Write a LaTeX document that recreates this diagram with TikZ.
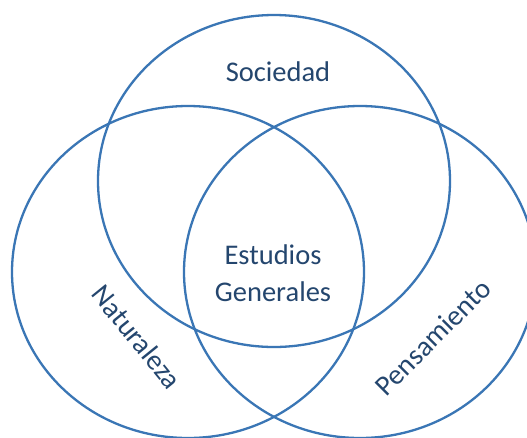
\documentclass[tikz,border=0pt]{standalone}
\usepackage{fontspec}
\setmainfont{Carlito}
\definecolor{ringblue}{HTML}{3A76B5}
\definecolor{textblue}{HTML}{24466E}
\begin{document}
\begin{tikzpicture}[x=1pt,y=-1pt,
  ring/.style={draw=ringblue,line width=2.3pt},
  lbl/.style={text=textblue,font=\fontsize{28.5}{37}\selectfont,align=center,inner sep=0pt}]
\useasboundingbox (0,0) rectangle (527,437);
\clip (0,0) rectangle (527,437);
\fill[white] (0,0) rectangle (527,437);
\draw[ring] (274,181) ellipse [x radius=176pt, y radius=166pt];
\draw[ring] (188,272) ellipse [x radius=176pt, y radius=166pt];
\draw[ring] (360,272) ellipse [x radius=176pt, y radius=166pt];
\node[lbl] (soc) at (278,72) {Sociedad};
\node[lbl] (eg) at (273,273) {Estudios\\Generales};
\node[lbl,rotate=-51] (nat) at (137,337) {Naturaleza};
\node[lbl,rotate=45] (pen) at (433,337) {Pensamiento};
\end{tikzpicture}
\end{document}
